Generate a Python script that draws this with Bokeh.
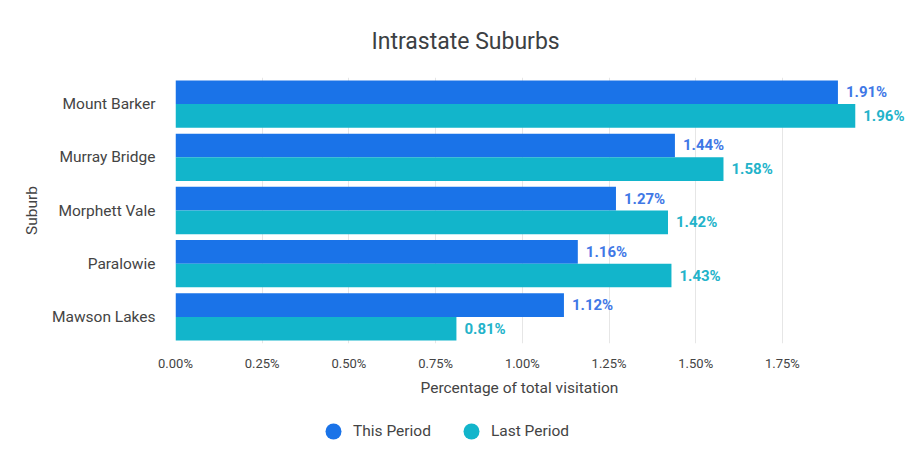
from bokeh.plotting import figure
from bokeh.layouts import column
from bokeh.models import (FactorRange, Range1d, FixedTicker, PrintfTickFormatter,
                          ColumnDataSource, LabelSet, Legend, LegendItem, Title)
from bokeh.core.properties import value
from bokeh.transform import dodge
from bokeh.embed import file_html
from bokeh.resources import INLINE

suburbs = ["Mount Barker", "Murray Bridge", "Morphett Vale", "Paralowie", "Mawson Lakes"]
this_period = [1.91, 1.44, 1.27, 1.16, 1.12]
last_period = [1.96, 1.58, 1.42, 1.43, 0.81]
x_ticks = [0.0, 0.25, 0.5, 0.75, 1.0, 1.25, 1.5, 1.75]
series_names = ["This Period", "Last Period"]
colors = ["#1a73e8", "#12b5cb"]
label_colors = ["#3f78e6", "#23b3ca"]

FONT = "Roboto"

src = ColumnDataSource(dict(
    suburb=suburbs,
    this=this_period,
    last=last_period,
    this_lbl=[f"{v:.2f}%" for v in this_period],
    last_lbl=[f"{v:.2f}%" for v in last_period],
))

p = figure(width=917, height=410, output_backend="svg", toolbar_location=None,
           y_range=FactorRange(factors=suburbs[::-1]),
           x_range=Range1d(0, 2.125),
           min_border_left=175, min_border_right=5,
           min_border_top=77, min_border_bottom=67)

p.title.text = "Intrastate Suburbs"
p.title.align = "left"
p.title.offset = 196
p.title.text_font = FONT
p.title.text_font_size = "23px"
p.title.text_font_style = "normal"
p.title.text_color = "#3c4043"
p.title.standoff = 46

bh = 0.445
off = bh / 2
p.hbar(y=dodge("suburb", off, range=p.y_range), left=0, right="this", height=bh,
       source=src, fill_color=colors[0], line_color=None)
p.hbar(y=dodge("suburb", -off, range=p.y_range), left=0, right="last", height=bh,
       source=src, fill_color=colors[1], line_color=None)

for col, lbl, d, c in [("this", "this_lbl", off, label_colors[0]),
                       ("last", "last_lbl", -off, label_colors[1])]:
    ls = LabelSet(x=col, y=dodge("suburb", d, range=p.y_range), text=lbl, source=src,
                  x_offset=8, text_baseline="middle", text_align="left",
                  text_font=value(FONT), text_font_size=value("15px"),
                  text_font_style="bold", text_color=c)
    p.add_layout(ls)

p.xaxis.ticker = FixedTicker(ticks=x_ticks)
p.xaxis.formatter = PrintfTickFormatter(format="%.2f%%")
p.yaxis.axis_label = "Suburb"
for ax in (p.xaxis[0], p.yaxis[0]):
    ax.axis_line_color = None
    ax.major_tick_line_color = None
    ax.minor_tick_line_color = None
    ax.major_label_text_font = FONT
    ax.major_label_text_color = "#444444"
    ax.axis_label_text_font = FONT
    ax.axis_label_text_font_style = "normal"
    ax.axis_label_text_font_size = "15.5px"
    ax.axis_label_text_color = "#444444"
p.xaxis.major_label_text_font_size = "13px"
p.yaxis.major_label_text_font_size = "15.5px"
p.xaxis.major_label_standoff = 6
p.yaxis.major_label_standoff = 14
p.yaxis.axis_label_standoff = 8

# x-axis title, centred under the original chart area
xtitle = Title(text="Percentage of total visitation", align="left", offset=245,
               text_font=FONT, text_font_size="15.5px", text_font_style="normal",
               text_color="#444444", standoff=7)
p.add_layout(xtitle, "below")

p.xgrid.grid_line_color = "#e6e6e6"
p.ygrid.grid_line_color = None
p.outline_line_color = None
p.background_fill_color = "white"
p.border_fill_color = "white"

# legend strip below the chart (circle markers of zero size only feed the legend)
lg = figure(width=917, height=54, output_backend="svg", toolbar_location=None,
            x_range=Range1d(0, 1), y_range=Range1d(0, 1),
            min_border_left=0, min_border_right=0, min_border_top=0, min_border_bottom=0)
lg.axis.visible = False
lg.grid.visible = False
lg.outline_line_color = None
lg.border_fill_color = "white"
l1 = lg.scatter(x="this", y="last", source=src, marker="circle", size=0,
                fill_color=colors[0], line_color=None)
l2 = lg.scatter(x="this", y="last", source=src, marker="circle", size=0,
                fill_color=colors[1], line_color=None)
legend = Legend(items=[LegendItem(label=series_names[0], renderers=[l1]),
                       LegendItem(label=series_names[1], renderers=[l2])],
                location=(138, 13), orientation="horizontal",
                glyph_width=40, glyph_height=40, label_height=40,
                label_standoff=-11, spacing=20, padding=0, margin=0,
                border_line_color=None, background_fill_alpha=0,
                label_text_font=FONT, label_text_font_size="15.5px",
                label_text_color="#444444")
lg.add_layout(legend, "center")

layout = column(p, lg, spacing=0)
open("out.html", "w").write(file_html(layout, INLINE))
